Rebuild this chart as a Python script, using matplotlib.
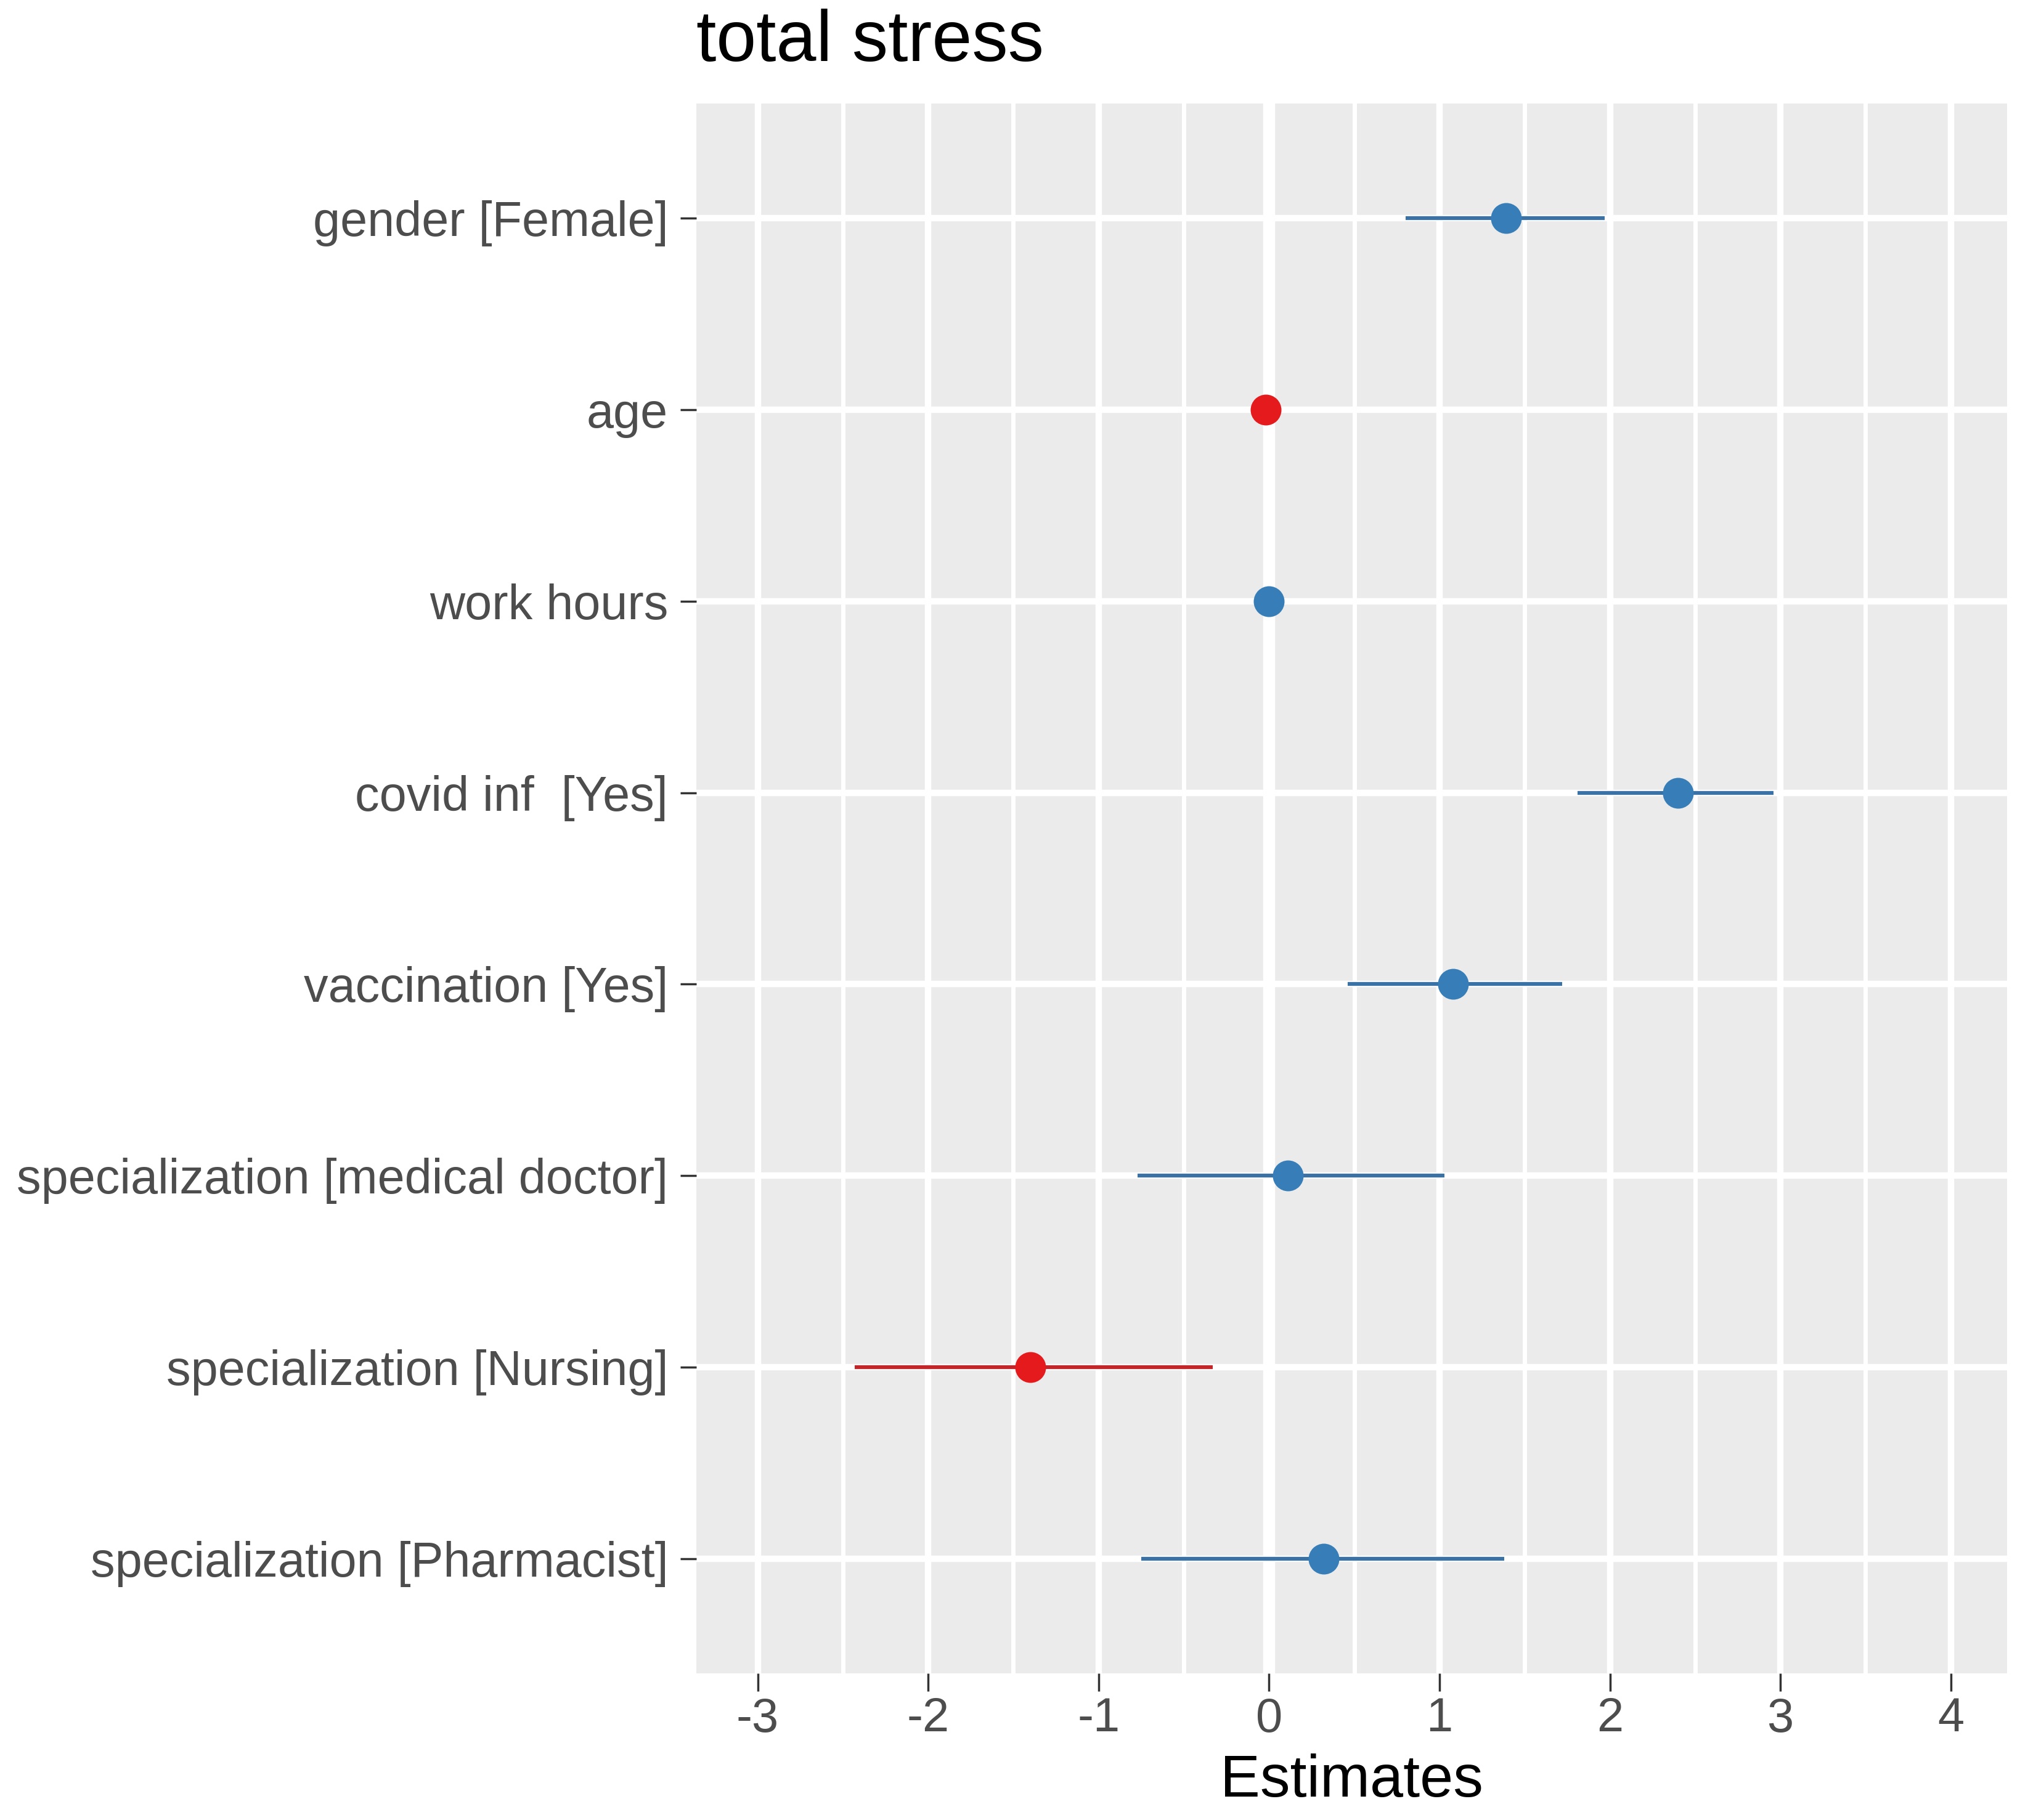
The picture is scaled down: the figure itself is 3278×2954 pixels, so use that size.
import matplotlib
matplotlib.use("Agg")
import matplotlib.pyplot as plt
from matplotlib.ticker import MultipleLocator

terms = ["gender [Female]", "age", "work hours", "covid inf  [Yes]",
         "vaccination [Yes]", "specialization [medical doctor]",
         "specialization [Nursing]", "specialization [Pharmacist]"]
estimates = [1.39, -0.02, 0.00, 2.40, 1.08, 0.11, -1.40, 0.32]
ci_low = [0.80, -0.05, -0.03, 1.81, 0.46, -0.77, -2.43, -0.75]
ci_high = [1.97, 0.01, 0.03, 2.96, 1.72, 1.03, -0.33, 1.38]
x_ticks = [-3, -2, -1, 0, 1, 2, 3, 4]
title = "total stress"
xlabel = "Estimates"

BLUE = "#377EB8"
RED = "#E41A1C"
FONT = ["Liberation Sans", "DejaVu Sans"]
plt.rcParams['font.family'] = FONT
plt.rcParams['axes.unicode_minus'] = False

W, H = 3278, 2954
DPI = 100
fig = plt.figure(figsize=(W / DPI, H / DPI), dpi=DPI)
ax = fig.add_axes([1130 / W, 1 - 2716 / H, (3257 - 1130) / W, (2716 - 168) / H])
ax.set_facecolor("#EBEBEB")

n = len(terms)
ypos = [n - 1 - i for i in range(n)]

ax.set_xlim(-3.36, 4.33)
ax.set_ylim(-0.6, n - 1 + 0.6)
ax.xaxis.set_minor_locator(MultipleLocator(0.5))
ax.set_xticks(x_ticks)
ax.set_xticklabels([str(t) for t in x_ticks])
ax.set_yticks(ypos)
ax.set_yticklabels(terms)
ax.grid(which="major", axis="both", color="white", linewidth=7.5, zorder=0)
ax.grid(which="minor", axis="x", color="white", linewidth=5.0, zorder=0)
ax.set_axisbelow(True)
ax.axvline(0, color="white", linewidth=14, zorder=1)

for y, e, lo, hi in zip(ypos, estimates, ci_low, ci_high):
    c = BLUE if e >= 0 else RED
    lc = "#3A72A6" if e >= 0 else "#C0262A"
    ax.plot([lo, hi], [y, y], color=lc, linewidth=4.5, solid_capstyle="butt", zorder=2)
    ax.plot([e], [y], marker="o", markersize=36, color=c, markeredgewidth=0, zorder=3)

for s in ax.spines.values():
    s.set_visible(False)

ax.tick_params(axis="x", which="minor", length=0)
ax.tick_params(axis="x", which="major", length=21, width=2.5, color="#333333",
               labelsize=56, labelcolor="#4D4D4D", pad=6)
ax.tick_params(axis="y", which="major", length=19, width=2.5, color="#333333",
               labelsize=57, labelcolor="#4D4D4D", pad=14)

ax.set_xlabel(xlabel, fontsize=70, color="black", labelpad=14)
ax.set_title(title, loc="left", fontsize=84, color="black", pad=50)

fig.savefig("out.png", dpi=DPI, facecolor="white")
